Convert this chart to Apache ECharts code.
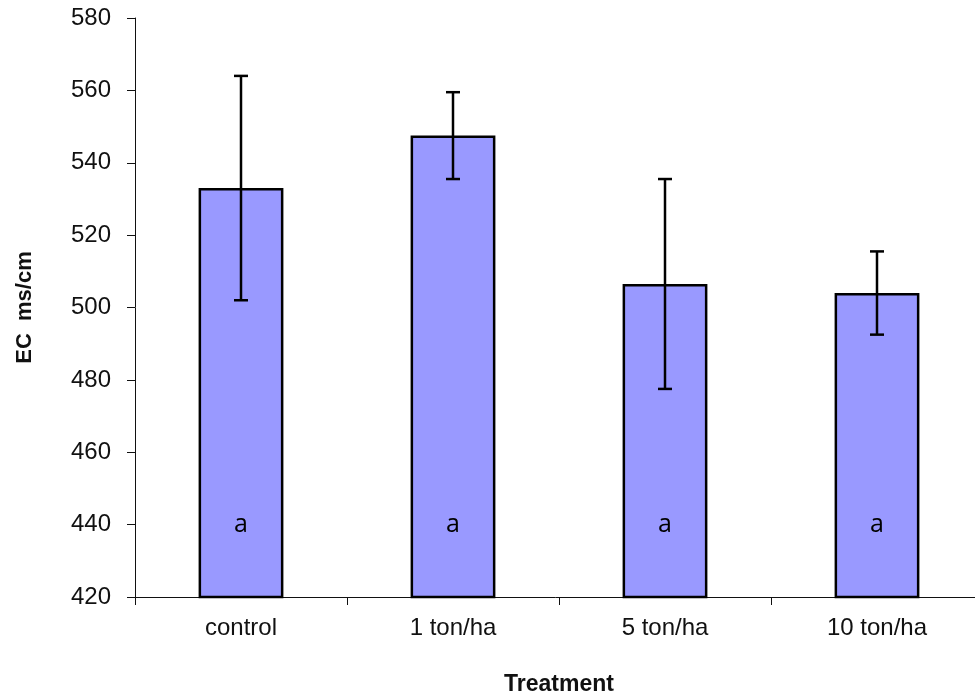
<!DOCTYPE html>
<html>
<head>
<meta charset="utf-8">
<script src="https://cdn.jsdelivr.net/npm/echarts@6/dist/echarts.min.js"></script>
<style>
  html, body { margin: 0; padding: 0; background: #fff; }
  #chart { width: 975px; height: 693px; }
</style>
</head>
<body>
<div id="chart"></div>
<script>
// Electrical conductivity by treatment, mean with error range
const categories = ['control', '1 ton/ha', '5 ton/ha', '10 ton/ha'];
const ecMean = [533, 547.5, 506.5, 504];
const ecError = [31, 12, 29, 11.5];
const groupLetters = ['a', 'a', 'a', 'a'];
const letterLevel = 440;
const yTicks = { min: 420, max: 580, interval: 20 };

const errorData = categories.map((c, i) => [i, ecMean[i] - ecError[i], ecMean[i] + ecError[i]]);
const letterData = categories.map((c, i) => [i, letterLevel, groupLetters[i]]);

const chart = echarts.init(document.getElementById('chart'));
chart.setOption({
  animation: false,
  grid: { left: 135, top: 18, width: 848, bottom: 96, containLabel: false, outerBoundsMode: 'none' },
  xAxis: {
    type: 'category',
    data: categories,
    name: 'Treatment',
    nameLocation: 'middle',
    nameGap: 76,
    nameTextStyle: { fontFamily: 'Liberation Sans', fontWeight: 'bold', fontSize: 23, color: '#111' },
    axisLine: { lineStyle: { color: '#111', width: 1 } },
    axisTick: { show: true, length: 8, alignWithLabel: false, lineStyle: { color: '#111' } },
    axisLabel: { margin: 19, fontFamily: 'Liberation Sans', fontSize: 24, color: '#111' }
  },
  yAxis: {
    type: 'value',
    min: yTicks.min,
    max: yTicks.max,
    interval: yTicks.interval,
    name: 'EC  ms/cm',
    nameLocation: 'middle',
    nameGap: 99,
    nameTextStyle: { fontFamily: 'Liberation Sans', fontWeight: 'bold', fontSize: 22, color: '#111' },
    axisLine: { show: true, lineStyle: { color: '#111', width: 1 } },
    axisTick: { show: true, length: 8, lineStyle: { color: '#111' } },
    splitLine: { show: false },
    axisLabel: { margin: 24, fontFamily: 'Liberation Sans', fontSize: 24, color: '#111' }
  },
  series: [
    {
      type: 'bar',
      data: ecMean,
      barWidth: '40%',
      itemStyle: { color: '#9999ff', borderColor: '#000', borderWidth: 2.5 },
      z: 2
    },
    {
      type: 'custom',
      data: errorData,
      z: 5,
      renderItem: function (params, api) {
        const x = api.value(0);
        const lo = api.coord([x, api.value(1)]);
        const hi = api.coord([x, api.value(2)]);
        const cap = 7;
        const style = { stroke: '#000', lineWidth: 2.5 };
        return {
          type: 'group',
          children: [
            { type: 'line', shape: { x1: hi[0], y1: hi[1], x2: lo[0], y2: lo[1] }, style: style },
            { type: 'line', shape: { x1: hi[0] - cap, y1: hi[1], x2: hi[0] + cap, y2: hi[1] }, style: style },
            { type: 'line', shape: { x1: lo[0] - cap, y1: lo[1], x2: lo[0] + cap, y2: lo[1] }, style: style }
          ]
        };
      }
    },
    {
      type: 'scatter',
      data: letterData,
      symbolSize: 0,
      z: 6,
      itemStyle: { opacity: 1 },
      label: {
        show: true,
        position: 'inside',
        formatter: p => p.value[2],
        fontFamily: 'Open Sans',
        fontSize: 25,
        color: '#000'
      }
    }
  ]
});
</script>
</body>
</html>
